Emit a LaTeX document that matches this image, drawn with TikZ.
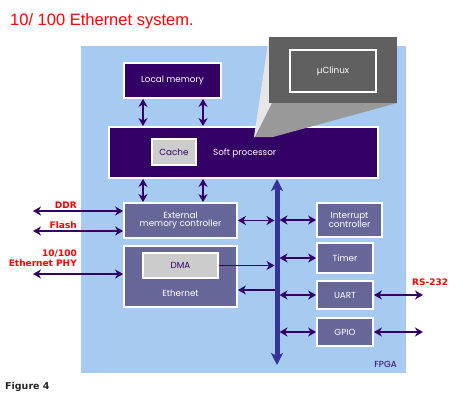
\documentclass[tikz,border=0pt]{standalone}
\usepackage{fontspec}
\usetikzlibrary{arrows.meta,calc}
\newfontfamily\boxfont{Poppins}
\newfontfamily\lblfont{DejaVu Sans}
\newfontfamily\titlefont{Liberation Sans}
\definecolor{dpurple}{RGB}{51,0,102}
\definecolor{mpurple}{RGB}{102,102,153}
\definecolor{fpgablue}{RGB}{166,202,240}
\definecolor{busblue}{RGB}{51,51,153}
\definecolor{cachegrey}{RGB}{204,204,204}
\definecolor{dgrey}{RGB}{96,96,96}
\definecolor{lgrey}{RGB}{230,230,230}
\definecolor{mgrey}{RGB}{153,153,153}
\definecolor{lblred}{RGB}{255,0,0}
\tikzset{
  blk/.style={draw=white, line width=1.8pt, inner sep=0pt, text=white, align=center,
    font=\boxfont\fontsize{8.8}{9.5}\selectfont},
  darkblk/.style={blk, fill=dpurple},
  midblk/.style={blk, fill=mpurple},
  greyblk/.style={blk, fill=cachegrey, text=dpurple},
  tip/.tip={Stealth[length=8pt,width=9pt,inset=2.5pt]},
  bustip/.tip={Stealth[length=12pt,width=12pt,inset=3pt]},
  dbl/.style={draw=dpurple, line width=1.8pt, tip-tip},
  sgl/.style={draw=dpurple, line width=1.8pt, -tip},
  bus/.style={draw=busblue, line width=5pt, bustip-bustip},
  redlbl/.style={text=lblred, font=\lblfont\bfseries\fontsize{9}{10.5}\selectfont, inner sep=0pt, align=right},
}
\begin{document}
\begin{tikzpicture}[x=1pt,y=-1pt]
\useasboundingbox (0,0) rectangle (466,402);
% title
\node[anchor=west, inner sep=0pt, text=lblred, font=\titlefont\fontsize{16.5}{18}\selectfont] (title) at (10,21) {10/ 100 Ethernet system.};
% FPGA background
\fill[fpgablue] (81,46) rectangle (406,373);
\node[anchor=south east, inner sep=0pt, text=dpurple, font=\boxfont\fontsize{8.8}{9.5}\selectfont] (fpga) at (397,368) {FPGA};
% blocks
\node[darkblk, minimum width=97pt, minimum height=35pt] (lm) at (172.5,80.5) {Local memory};
\node[darkblk, minimum width=269pt, minimum height=51pt] (sp) at (243.5,152.5) {};
\node[greyblk, minimum width=44pt, minimum height=26pt] (cache) at (174,152) {Cache};
\node[anchor=west, inner sep=0pt, text=white, font=\boxfont\fontsize{8.8}{9.5}\selectfont] (sptxt) at (213,153) {Soft processor};
% uClinux projection
\fill[lgrey] (269,37) -- (272,103) -- (255,137) -- (254,137) -- cycle;
\fill[mgrey] (272,103) -- (397,103) -- (273,137) -- (255,137) -- cycle;
\node[fill=dgrey, minimum width=128pt, minimum height=66pt, inner sep=0pt] (os) at (333,70) {};
\node[blk, minimum width=86pt, minimum height=42pt] (uc) at (333,71) {µClinux};
\node[midblk, minimum width=113pt, minimum height=35pt] (emc) at (180.5,220.5) {External\\[-1pt]memory controller};
\node[midblk, minimum width=113pt, minimum height=61pt] (eth) at (180.5,276.5) {};
\node[greyblk, minimum width=75pt, minimum height=25pt] (dma) at (180.5,265.5) {DMA};
\node[inner sep=0pt, text=white, font=\boxfont\fontsize{8.8}{9.5}\selectfont] (ethtxt) at (180.5,293) {Ethernet};
\node[midblk, minimum width=65pt, minimum height=34pt] (intc) at (349.5,220) {Interrupt\\[-1pt]controller};
\node[midblk, minimum width=56pt, minimum height=30pt] (timer) at (345,258) {Timer};
\node[midblk, minimum width=56pt, minimum height=28pt] (uart) at (345,295) {UART};
\node[midblk, minimum width=56pt, minimum height=28pt] (gpio) at (345,332) {GPIO};
% bus
\coordinate (bt) at (277,179);
\coordinate (bb) at (277,365);
\draw[bus] (bt) -- (bb);
% local memory <-> soft processor <-> external memory controller
\draw[dbl] (lm.south -| 143,0) -- (sp.north -| 143,0);
\draw[dbl] (lm.south -| 203,0) -- (sp.north -| 203,0);
\draw[dbl] (sp.south -| 143,0) -- (emc.north -| 143,0);
\draw[dbl] (sp.south -| 203,0) -- (emc.north -| 203,0);
% bus connections
\draw[dbl] (emc.east) -- ($(bt |- emc.east)+(-2.5,0)$);
\draw[dbl] ($(bt |- intc.west)+(2.5,0)$) -- (intc.west);
\draw[dbl] ($(bt |- timer.west)+(2.5,0)$) -- (timer.west);
\draw[dbl] ($(bt |- uart.west)+(2.5,0)$) -- (uart.west);
\draw[dbl] ($(bt |- gpio.west)+(2.5,0)$) -- (gpio.west);
\draw[sgl] (dma.east) -- ($(bt |- dma.east)+(-2.5,0)$);
\coordinate (ethin) at (277,290);
\draw[sgl] ($(ethin)+(-2.5,0)$) -- (ethin -| eth.east);
% external connections
\coordinate (ddrL) at (33,211);
\coordinate (flashL) at (33,231);
\coordinate (phyL) at (33,274);
\coordinate (rsR) at (423,295);
\coordinate (gpR) at (423,332);
\draw[dbl] (ddrL) -- (ddrL -| emc.west);
\draw[dbl] (flashL) -- (flashL -| emc.west);
\draw[dbl] (phyL) -- (phyL -| eth.west);
\draw[dbl] (uart.east) -- (rsR);
\draw[dbl] (gpio.east) -- (gpR);
% labels
\node[redlbl, anchor=south east] (ddr) at (77,208.5) {DDR};
\node[redlbl, anchor=south east] (flash) at (77,228.5) {Flash};
\node[redlbl, anchor=south east] (phy) at (77,267) {10/100\\Ethernet PHY};
\node[redlbl, anchor=south west] (rs) at (412,286) {RS-232};
\node[anchor=south west, inner sep=0pt, font=\lblfont\bfseries\fontsize{9.5}{11}\selectfont, text=black!85] (fig) at (5,392) {Figure 4};
\end{tikzpicture}
\end{document}
